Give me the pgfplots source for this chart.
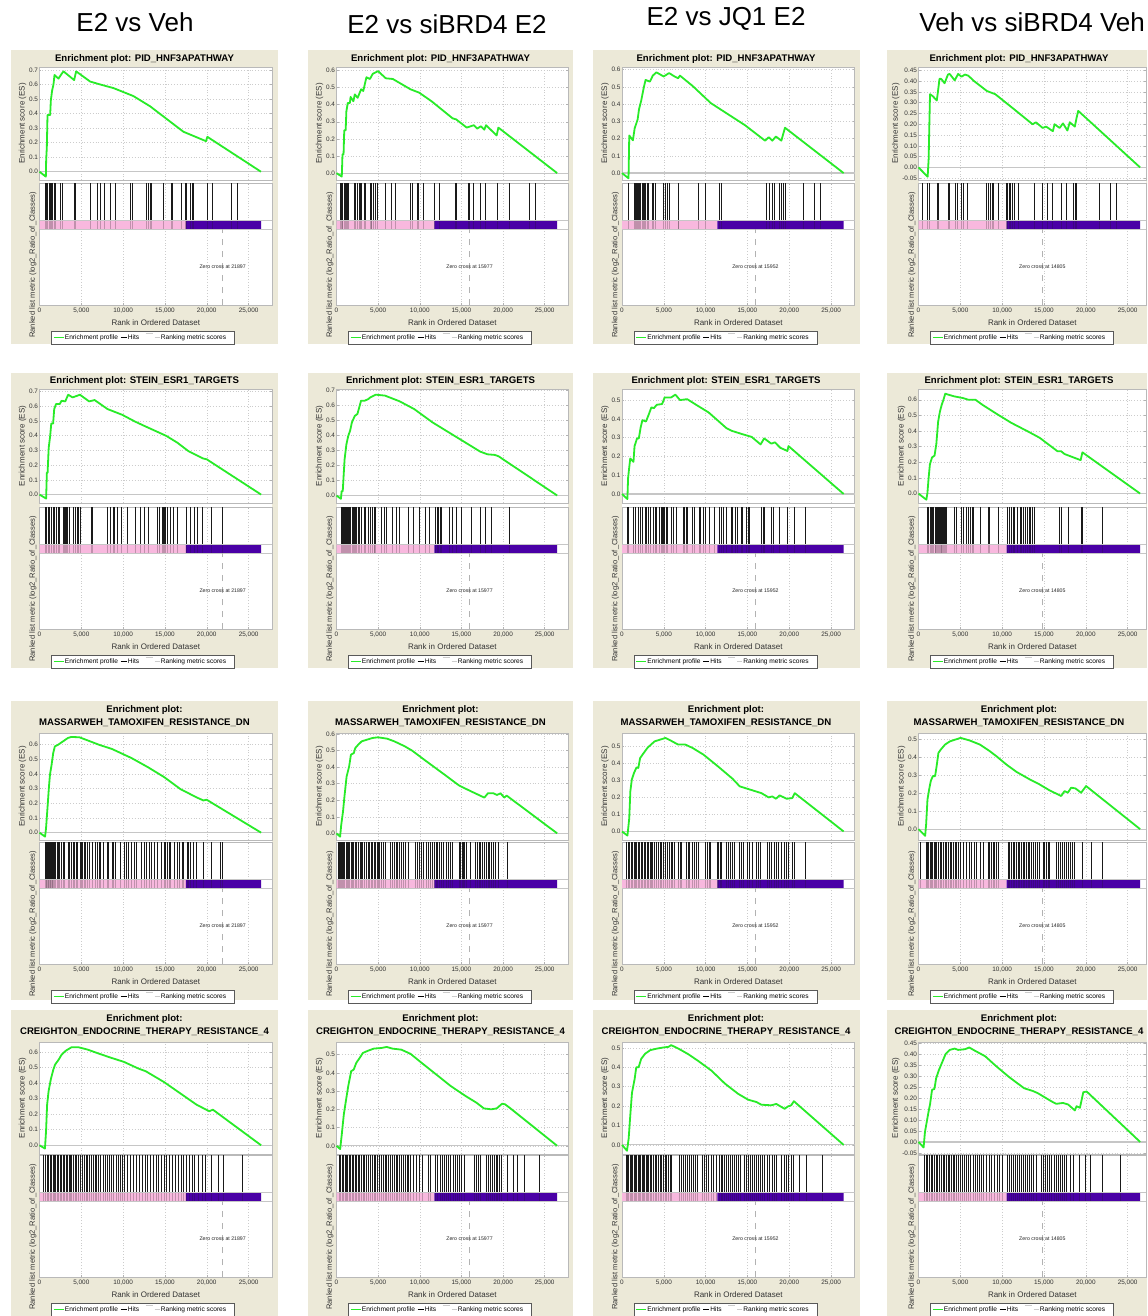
\documentclass[border=0pt]{standalone}
\usepackage{fontspec}
\setmainfont{Liberation Sans}
\usepackage{pgfplots}
\pgfplotsset{compat=1.18}
\definecolor{beige}{RGB}{236,233,216}
\definecolor{barpink}{RGB}{248,184,222}
\definecolor{barpurple}{RGB}{74,0,166}
\definecolor{esgreen}{RGB}{40,235,40}
\newcommand\tickfont{\fontsize{3.2}{3.6}\selectfont}
\newcommand\labfont{\fontsize{4}{4.6}\selectfont}
\newcommand\rlfont{\fontsize{3.8}{4.4}\selectfont}
\newcommand\titlefont{\fontsize{4.8}{5.6}\selectfont\bfseries}
\newcommand\legfont{\fontsize{3.3}{3.8}\selectfont}
\newcommand\zcfont{\fontsize{2.6}{3}\selectfont}
\newcommand\hdfont{\fontsize{13}{15}\selectfont}
\pgfplotsset{
  gsea/.style={scale only axis, xmin=-1, axis line style={gray!55, line width=0.3pt},
    xtick={0,5000,10000,15000,20000,25000}, grid style={densely dotted, gray!40, line width=0.25pt},
    tick style={gray!60, line width=0.25pt}, major tick length=1pt, scaled x ticks=false, scaled y ticks=false,
    ticklabel style={font=\tickfont, text=black!80, inner sep=0.6pt},
    axis background/.style={fill=white}},
  esax/.style={gsea, anchor=north west, xticklabels={}, xtick style={draw=none}, grid=major, clip=false,
    ylabel={Enrichment score (ES)}, ylabel style={font=\labfont, text=black!80, inner sep=0.6pt}},
  loax/.style={gsea, anchor=south west, ymin=0, ymax=122, ytick=\empty, xmajorgrids, height=61pt,
    clip=true,
    xticklabels={0,{5,000},{10,000},{15,000},{20,000},{25,000}},
    xticklabel style={yshift=-0.8pt},
    xlabel={Rank in Ordered Dataset}, xlabel style={font=\labfont, text=black!80, inner sep=0.6pt, yshift=-1.8pt}},
  esline/.style={esgreen, line width=0.9pt, line join=round},
  hitline/.style={black!90, line width=0.38pt},
}
\newcommand\SetCol[3]{\def\Xl{#1}\def\Xr{#2}\def\Xm{#3}}
\newcommand\SetRow[3]{\def\Yt{#1}\def\Ye{#2}\def\Ya{#3}}
\newcommand\Legend[2]{%
  \draw[black!65, line width=0.3pt, fill=white] ({#1},{#2}) rectangle ++(183,13);
  \draw[esgreen, line width=0.9pt] ({#1+2},{#2+6.5}) -- ++(10,0);
  \node[anchor=west, font=\legfont, inner sep=0pt] at ({#1+13},{#2+6.5}) {Enrichment profile};
  \draw[black, line width=0.4pt] ({#1+69},{#2+6.5}) -- ++(6,0);
  \node[anchor=west, font=\legfont, inner sep=0pt] at ({#1+76},{#2+6.5}) {Hits};
  \draw[gray!40, line width=0.4pt] ({#1+94},{#2+2.5}) -- ++(7,0);
  \draw[gray!40, line width=0.4pt] ({#1+103},{#2+6.5}) -- ++(5,0);
  \node[anchor=west, font=\legfont, inner sep=0pt] at ({#1+109},{#2+6.5}) {Ranking metric scores};
}
% #1 ymin #2 ymax #3 yticks #4 precision #5 ES coords #6 hits #7 pink end #8 zero cross
\newcommand\Panel[8]{%
  \pgfmathsetmacro\PW{(\Xr-\Xl)*0.5}%
  \pgfmathsetmacro\PH{(\Ye-\Yt)*0.5}%
  \pgfmathsetmacro\AX{\Xl*0.5}%
  \pgfmathsetmacro\AY{-\Yt*0.5}%
  \pgfmathsetmacro\BY{-\Ya*0.5}%
  \begin{scope}[x=0.5pt,y=-0.5pt]
    \fill[white] (\Xl,\Yt) rectangle (\Xr,\Ya);
    \node[rotate=90, font=\rlfont, text=black!80] at ({\Xl-6.5},{\Ya-40}) {Ranked list metric (log2\_Ratio\_of\_Classes)};
  \end{scope}
  \begin{axis}[esax, at={(\AX pt,\AY pt)}, width=\PW pt, height=\PH pt, xmax=\Xm, ymin=#1, ymax=#2, ytick={#3},
      yticklabel style={/pgf/number format/.cd, fixed, fixed zerofill, precision=#4, assume math mode=true}]
    \addplot[gray!45, line width=0.6pt] coordinates {(0,0) (\Xm,0)};
    \addplot[esline] coordinates {#5};
  \end{axis}
  \begin{axis}[loax, at={(\AX pt,\BY pt)}, width=\PW pt, xmax=\Xm]
    \addplot[hitline, quiver={u=0,v=37}] table[row sep=\\, header=false, x index=0, y expr=85] {#6};
    \addplot[fill=barpink, draw=none] coordinates {(0,76) (#7,76) (#7,85) (0,85) (0,76)};
    \addplot[fill=barpurple, draw=none] coordinates {(#7,76) (26500,76) (26500,85) (#7,85) (#7,76)};
    \addplot[hitline, opacity=0.25, quiver={u=0,v=9}] table[row sep=\\, header=false, x index=0, y expr=76] {#6};
    \addplot[gray!45, line width=0.3pt] coordinates {(0,76) (\Xm,76)};
    \addplot[gray!45, line width=0.3pt] coordinates {(0,85) (\Xm,85)};
    \addplot[gray!60, dashed, line width=0.3pt] coordinates {(#8,0) (#8,76)};
    \node[font=\zcfont, text=black!85] at (axis cs:#8,38) {Zero cross at #8};
  \end{axis}
  \begin{scope}[x=0.5pt,y=-0.5pt]
    \Legend{\Xl+12}{\Ya+26}
  \end{scope}
}
\begin{document}
\begin{tikzpicture}
\useasboundingbox (0,0) rectangle (573.5pt,-658pt);
\clip (0,0) rectangle (573.5pt,-658pt);
\begin{scope}[x=0.5pt,y=-0.5pt]
\fill[white] (0,0) rectangle (1147,1316);
% column headers
\node[font=\hdfont] at (135,22) {E2 vs Veh};
\node[font=\hdfont] at (447,24) {E2 vs siBRD4 E2};
\node[font=\hdfont] at (726,19) {E2 vs JQ1 E2};
\node[font=\hdfont, anchor=west, inner sep=0pt] at (919,22) {Veh vs siBRD4 Veh};
% beige panels
\foreach \a/\b in {11/278, 308/573, 593/859.5, 887/1147}{
  \foreach \c/\d in {50/344, 373/668, 701/1000, 1010/1320}{
    \fill[beige] (\a,\c) rectangle (\b,\d);
  }
}
% titles
\foreach \cx in {144.5, 440.5, 726, 1019}{
  \node[font=\titlefont] at (\cx,59) {Enrichment plot: PID\_HNF3APATHWAY};
  \node[font=\titlefont] at (\cx,381) {Enrichment plot: STEIN\_ESR1\_TARGETS};
  \node[font=\titlefont] at (\cx,710) {Enrichment plot:};
  \node[font=\titlefont] at (\cx,723) {MASSARWEH\_TAMOXIFEN\_RESISTANCE\_DN};
  \node[font=\titlefont] at (\cx,1019) {Enrichment plot:};
  \node[font=\titlefont] at (\cx,1032) {CREIGHTON\_ENDOCRINE\_THERAPY\_RESISTANCE\_4};
}
\end{scope}
%================ ROW 1 =================
\SetRow{67}{180}{305}
\SetCol{39.5}{272}{27800}
\Panel{-0.057}{0.72}{0,0.1,0.2,0.3,0.4,0.5,0.6,0.7}{1}
{(0,0)(757,-0.034)(796,0.08)(876,0.17)(956,0.39)(1274,0.39)(1354,0.49)(1513,0.56)(1672,0.60)(1792,0.665)(2270,0.64)(2549,0.665)(2867,0.69)(4141,0.63)(4380,0.69)(6053,0.62)(7247,0.60)(8840,0.575)(11229,0.52)(13220,0.45)(14813,0.38)(17202,0.275)(19910,0.21)(20069,0.24)(26480,0)}
{677\\796\\955\\1194\\1354\\1473\\1593\\1752\\1871\\2469\\2787\\4141\\4260\\6053\\6929\\7247\\7725\\8442\\9039\\10910\\11149\\12822\\13021\\13300\\13420\\14813\\15809\\15928\\17003\\17401\\17520\\18078\\18317\\18397\\20069\\20666\\22975\\23652\\}
{17500}{21897}
\SetCol{336.5}{568}{27800}
\Panel{-0.04}{0.62}{0,0.1,0.2,0.3,0.4,0.5,0.6}{1}
{(0,0)(634,-0.02)(718,0.11)(845,0.11)(930,0.25)(1099,0.25)(1183,0.36)(1352,0.41)(1606,0.41)(1690,0.445)(2028,0.42)(2198,0.46)(2536,0.44)(2958,0.49)(3212,0.48)(3592,0.56)(4015,0.55)(4353,0.58)(4987,0.596)(5916,0.554)(6762,0.55)(8874,0.49)(9931,0.47)(11410,0.42)(13946,0.32)(14368,0.314)(15636,0.266)(16481,0.28)(16904,0.26)(17327,0.274)(17749,0.254)(17960,0.28)(19228,0.22)(19440,0.266)(26500,0)}
{423\\550\\676\\761\\887\\1014\\1141\\1268\\1479\\2113\\2324\\2536\\2747\\2874\\3043\\3381\\3507\\4015\\4141\\4226\\4437\\4649\\4860\\5916\\6634\\7099\\8874\\9086\\9720\\9889\\10438\\11748\\12340\\14241\\14368\\15847\\15974\\16396\\17242\\17834\\19355\\20707\\23158\\23876\\}
{11750}{15977}
\SetCol{622}{854.5}{27800}
\Panel{-0.04}{0.615}{0,0.1,0.2,0.3,0.4,0.5,0.6}{1}
{(0,0)(779,-0.03)(866,0.218)(1299,0.19)(1516,0.26)(1862,0.31)(2035,0.37)(2295,0.42)(2598,0.495)(2815,0.54)(3334,0.53)(3680,0.565)(4114,0.584)(4980,0.56)(5629,0.58)(6279,0.56)(6712,0.55)(6928,0.565)(8444,0.505)(10609,0.406)(14722,0.277)(17104,0.188)(17537,0.208)(17970,0.188)(18403,0.212)(19052,0.188)(19485,0.263)(26500,0)}
{779\\1429\\1602\\1732\\1862\\1948\\2078\\2208\\2381\\2511\\2641\\2815\\3031\\3161\\3594\\3767\\4027\\4980\\5196\\5413\\5629\\6712\\6798\\9092\\9958\\11690\\11906\\17320\\17624\\17970\\18186\\18836\\19052\\19269\\19485\\21650\\22949\\23685\\}
{11400}{15952}
\SetCol{918.5}{1146}{27200}
\Panel{-0.058}{0.465}{-0.05,0,0.05,0.1,0.15,0.2,0.25,0.3,0.35,0.4,0.45}{2}
{(0,0)(1092,-0.043)(1214,0.041)(1295,0.2)(1376,0.339)(1699,0.33)(2185,0.31)(2306,0.346)(2509,0.41)(2711,0.41)(3115,0.39)(3520,0.43)(3722,0.433)(4329,0.403)(4734,0.433)(5138,0.42)(5543,0.43)(5947,0.425)(6635,0.4)(8173,0.354)(9184,0.339)(11410,0.27)(13635,0.2)(14039,0.209)(14849,0.183)(15253,0.189)(16062,0.168)(16264,0.2)(16871,0.183)(17275,0.204)(17801,0.171)(18084,0.209)(18691,0.189)(18893,0.229)(19095,0.262)(26500,0)}
{486\\1092\\1295\\2306\\2428\\3520\\3641\\4451\\4613\\5139\\5341\\5826\\8173\\8375\\8578\\8780\\8982\\9589\\10520\\10681\\10843\\11005\\11207\\11410\\11895\\13837\\14849\\15375\\16063\\17074\\17681\\18490\\18773\\18894\\21605\\22940\\23628\\}
{10530}{14805}
%================ ROW 2 =================
\SetRow{389}{503}{629}
\SetCol{39.5}{272}{27800}
\Panel{-0.057}{0.716}{0,0.1,0.2,0.3,0.4,0.5,0.6,0.7}{1}
{(0,0)(791,-0.027)(879,0.148)(967,0.148)(1099,0.318)(1275,0.398)(1406,0.482)(1626,0.482)(1758,0.58)(1978,0.614)(2417,0.614)(2637,0.636)(3076,0.632)(3428,0.677)(3956,0.659)(4835,0.677)(5933,0.632)(6593,0.641)(8131,0.58)(9889,0.541)(11427,0.495)(12526,0.466)(15163,0.398)(16481,0.352)(17800,0.295)(19558,0.245)(20000,0.239)(26500,0)}
{747\\879\\1011\\1187\\1450\\1626\\1758\\1978\\2198\\2417\\2857\\2989\\3120\\3208\\3384\\3516\\4087\\4263\\4527\\4703\\4835\\6153\\6373\\8131\\8483\\8790\\9010\\9361\\9801\\10548\\11427\\12087\\12526\\13054\\14065\\14284\\14636\\14812\\14943\\15075\\15251\\15603\\16042\\16481\\17580\\18019\\18459\\18898\\19470\\20525\\21843\\}
{17500}{21897}
\SetCol{336.5}{568}{27800}
\Panel{-0.05}{0.711}{0,0.1,0.2,0.3,0.4,0.5,0.6,0.7}{1}
{(0,0)(528,-0.022)(616,0.029)(748,0.029)(968,0.24)(1189,0.342)(1409,0.398)(1629,0.432)(1849,0.488)(2201,0.532)(2509,0.544)(2729,0.588)(2949,0.633)(3390,0.633)(3830,0.644)(4050,0.655)(4710,0.673)(5811,0.667)(7571,0.629)(9332,0.577)(11533,0.488)(14174,0.398)(15936,0.338)(17256,0.293)(18137,0.275)(19017,0.271)(19457,0.262)(26500,0)}
{528\\660\\792\\924\\1057\\1189\\1321\\1453\\1585\\1717\\1849\\1981\\2157\\2289\\2421\\2597\\2773\\2949\\3390\\3522\\3830\\4050\\4270\\4490\\4578\\4710\\5370\\5722\\6031\\6691\\7131\\7571\\8672\\9244\\9992\\10653\\11093\\11886\\12062\\12238\\12414\\12634\\13514\\13954\\14394\\15055\\16156\\17256\\17917\\18577\\20778\\}
{11750}{15977}
\SetCol{622}{854.5}{27800}
\Panel{-0.048}{0.559}{0,0.1,0.2,0.3,0.4,0.5}{1}
{(0,0)(642,-0.027)(728,0.086)(856,0.139)(985,0.189)(1370,0.171)(1498,0.255)(1798,0.296)(2012,0.296)(2226,0.354)(2440,0.393)(2868,0.386)(3211,0.425)(3510,0.461)(3810,0.457)(4153,0.475)(4795,0.479)(5095,0.514)(5865,0.514)(6379,0.529)(6935,0.5)(7792,0.505)(8862,0.475)(10360,0.434)(12501,0.35)(13143,0.336)(14427,0.318)(15497,0.304)(16567,0.264)(16996,0.296)(17852,0.268)(18280,0.275)(18922,0.246)(19778,0.229)(19907,0.255)(26500,0)}
{642\\813\\1413\\1584\\2012\\2226\\2440\\2782\\2954\\3125\\3382\\3724\\3938\\4152\\4495\\4666\\4795\\4923\\5095\\5266\\5437\\5865\\6122\\6507\\7364\\7492\\7663\\7792\\8434\\8648\\9204\\9376\\9718\\9933\\10489\\11088\\11644\\11858\\12072\\12501\\13058\\13229\\13571\\13785\\14213\\14427\\14855\\15069\\15283\\16653\\16867\\16996\\17852\\18066\\18794\\19778\\20634\\21919\\}
{11400}{15952}
\SetCol{918.5}{1146}{27200}
\Panel{-0.06}{0.669}{0,0.1,0.2,0.3,0.4,0.5,0.6}{1}
{(0,0)(937,-0.039)(1065,0.004)(1193,0.091)(1363,0.188)(1619,0.232)(1917,0.243)(2130,0.318)(2343,0.459)(2556,0.524)(2769,0.567)(2982,0.6)(3195,0.639)(3621,0.632)(4260,0.622)(5325,0.611)(5964,0.6)(6816,0.6)(7668,0.567)(9372,0.509)(11076,0.453)(13206,0.394)(14484,0.357)(16614,0.271)(17040,0.271)(17466,0.253)(18744,0.227)(19383,0.214)(19596,0.264)(26500,0)}
{1065\\1193\\1363\\1491\\1619\\1789\\1960\\2045\\2130\\2215\\2343\\2471\\2556\\2684\\2769\\2897\\2982\\3110\\3238\\3323\\4260\\4473\\5112\\5325\\5751\\5964\\6177\\6390\\6603\\7455\\8307\\8520\\9585\\10650\\10863\\11076\\11289\\11502\\11843\\12141\\12354\\12567\\12780\\12993\\13206\\13419\\13632\\13845\\16827\\17040\\17892\\19511\\19596\\21939\\}
{10530}{14805}
%================ ROW 3 =================
\SetRow{733}{840}{964}
\SetCol{39.5}{272}{27800}
\Panel{-0.05}{0.68}{0,0.1,0.2,0.3,0.4,0.5,0.6}{1}
{(0,0)(663,-0.027)(781,0.03)(937,0.155)(1132,0.315)(1249,0.395)(1444,0.463)(1639,0.543)(1834,0.589)(2225,0.6)(2810,0.623)(3396,0.646)(3786,0.653)(4762,0.651)(5737,0.63)(7105,0.6)(8666,0.571)(11006,0.509)(12958,0.447)(14909,0.379)(16861,0.297)(18812,0.24)(19593,0.22)(19983,0.225)(26500,0)}
{663\\781\\859\\937\\1015\\1093\\1171\\1249\\1327\\1405\\1483\\1561\\1639\\1834\\1952\\2108\\2264\\2420\\2615\\2810\\3005\\3396\\3591\\3786\\4059\\4215\\4371\\4567\\4840\\4996\\5152\\5347\\5542\\5737\\5933\\6323\\6713\\6908\\7103\\7299\\7689\\8079\\8274\\8665\\8860\\9055\\9640\\10148\\10421\\10616\\11006\\11397\\11592\\12177\\12568\\12763\\13153\\13348\\13739\\14129\\14519\\14909\\15105\\15300\\15495\\15690\\16080\\16471\\16783\\17056\\17251\\17642\\17837\\18032\\18422\\18812\\19593\\20569\\21623\\21857\\}
{17500}{21897}
\SetCol{336.5}{568}{27800}
\Panel{-0.04}{0.606}{0,0.1,0.2,0.3,0.4,0.5,0.6}{1}
{(0,0)(433,-0.02)(563,0.05)(779,0.131)(953,0.222)(1212,0.343)(1516,0.404)(1732,0.475)(2078,0.485)(2252,0.515)(2598,0.535)(3031,0.556)(3680,0.566)(4330,0.576)(4980,0.58)(6062,0.572)(6928,0.556)(8227,0.525)(9093,0.499)(10825,0.434)(12990,0.354)(14722,0.289)(16021,0.257)(17753,0.216)(18186,0.242)(18836,0.242)(19269,0.232)(19702,0.242)(20135,0.216)(20438,0.228)(26500,0)}
{217\\346\\476\\606\\736\\866\\996\\1126\\1299\\1472\\1602\\1732\\1905\\2078\\2252\\2425\\2598\\2815\\2944\\3118\\3291\\3551\\3810\\3984\\4200\\4330\\4503\\4676\\4850\\5023\\5196\\5413\\5629\\5846\\6495\\6712\\6928\\7145\\7361\\7578\\7794\\8054\\8314\\8573\\9526\\9743\\9959\\10176\\10392\\10825\\11042\\11258\\11475\\11778\\11951\\12124\\12341\\12557\\12774\\13207\\13423\\13640\\13856\\14722\\14895\\15068\\15242\\15415\\15588\\16021\\16671\\16887\\17104\\17320\\17537\\17753\\17970\\18186\\18403\\18619\\18836\\19052\\19485\\20568\\}
{11750}{15977}
\SetCol{622}{854.5}{27800}
\Panel{-0.05}{0.578}{0,0.1,0.2,0.3,0.4,0.5}{1}
{(0,0)(650,-0.024)(866,0.078)(996,0.235)(1169,0.304)(1429,0.343)(1732,0.376)(1949,0.373)(2165,0.431)(2598,0.461)(3031,0.49)(3464,0.51)(3897,0.529)(4547,0.539)(5196,0.549)(5846,0.533)(6712,0.51)(7578,0.51)(8444,0.49)(9743,0.451)(11475,0.382)(13207,0.31)(14073,0.265)(15372,0.245)(16671,0.225)(17537,0.2)(17970,0.206)(18403,0.192)(18836,0.212)(19702,0.192)(20351,0.196)(20654,0.225)(26500,0)}
{563\\736\\909\\1083\\1256\\1429\\1602\\1775\\1949\\2122\\2295\\2468\\2641\\2815\\2988\\3161\\3334\\3507\\3681\\3897\\4114\\4330\\4547\\4763\\4980\\5196\\5413\\5629\\5846\\6062\\6279\\6712\\6928\\7145\\7664\\7881\\8097\\8357\\8617\\8877\\9136\\9959\\10176\\10392\\10609\\11388\\11561\\11734\\11908\\12427\\12687\\12947\\13207\\13466\\13986\\14246\\14506\\15025\\15285\\15545\\16064\\16324\\16584\\17363\\17623\\17883\\18229\\18489\\18749\\19009\\19355\\19615\\19875\\20394\\20568\\21953\\}
{11400}{15952}
\SetCol{918.5}{1146}{27200}
\Panel{-0.06}{0.533}{0,0.1,0.2,0.3,0.4,0.5}{1}
{(0,0)(793,-0.037)(912,0.028)(1071,0.165)(1309,0.23)(1468,0.267)(1706,0.294)(1984,0.294)(2182,0.355)(2380,0.423)(2658,0.441)(3174,0.469)(3769,0.487)(4364,0.496)(5038,0.506)(6149,0.491)(7339,0.469)(8529,0.432)(9323,0.404)(10513,0.358)(11703,0.318)(13290,0.276)(14480,0.248)(15670,0.215)(17058,0.184)(17455,0.211)(17852,0.202)(18248,0.23)(18764,0.226)(19439,0.202)(20034,0.239)(26500,0)}
{198\\912\\1071\\1230\\1388\\1547\\1706\\1864\\2023\\2182\\2380\\2579\\2777\\2975\\3174\\3372\\3570\\3769\\3967\\4165\\4364\\4562\\4760\\4959\\5355\\5752\\6070\\6347\\6625\\6943\\7339\\7736\\8331\\8529\\8728\\8926\\9124\\9323\\9521\\10711\\10909\\11108\\11306\\11504\\11704\\11901\\12099\\12298\\12496\\12694\\12893\\13091\\13289\\13488\\13686\\14004\\14202\\14400\\14876\\15075\\15273\\15471\\15670\\16542\\16780\\17018\\17256\\17495\\17733\\17971\\18209\\18447\\18685\\19637\\20628\\22017\\}
{10530}{14805}
%================ ROW 4 =================
\SetRow{1042}{1154}{1277}
\SetCol{39.5}{272}{27800}
\Panel{-0.056}{0.664}{0,0.1,0.2,0.3,0.4,0.5,0.6}{1}
{(0,0)(651,-0.021)(781,0.09)(911,0.261)(1084,0.347)(1344,0.422)(1648,0.486)(1865,0.519)(2298,0.551)(2646,0.583)(3166,0.609)(3817,0.63)(4684,0.63)(5768,0.615)(6853,0.594)(8370,0.566)(10105,0.536)(11840,0.493)(12707,0.476)(14876,0.407)(17044,0.326)(18779,0.261)(20297,0.219)(20730,0.229)(26500,0)}
{477\\737\\911\\1084\\1258\\1431\\1605\\1778\\1952\\2125\\2299\\2472\\2646\\2819\\2993\\3166\\3339\\3513\\3686\\3860\\4033\\4250\\4467\\4684\\4901\\5118\\5335\\5551\\5768\\5985\\6202\\6419\\6636\\6852\\7069\\7286\\7590\\7850\\8110\\8370\\8631\\8891\\9151\\9411\\9672\\9932\\10192\\10539\\10886\\11233\\11580\\11927\\12274\\12621\\12924\\13228\\13575\\13922\\14225\\14529\\14876\\15223\\15570\\15917\\16264\\16611\\16958\\17261\\17565\\17912\\18259\\18562\\18996\\19430\\19863\\20514\\21381\\22032\\24200\\}
{17500}{21897}
\SetCol{336.5}{568}{27800}
\Panel{-0.045}{0.569}{0,0.1,0.2,0.3,0.4,0.5}{1}
{(0,0)(440,-0.018)(616,0.055)(880,0.173)(1189,0.264)(1409,0.327)(1761,0.409)(2069,0.418)(2377,0.455)(2729,0.478)(3170,0.509)(3830,0.522)(4490,0.533)(5370,0.536)(6031,0.542)(6691,0.533)(7792,0.527)(8892,0.504)(10213,0.455)(11974,0.391)(13734,0.327)(15495,0.273)(16816,0.236)(17696,0.205)(18577,0.2)(19237,0.205)(19897,0.231)(20249,0.227)(20778,0.209)(26500,0)}
{308\\484\\660\\836\\1012\\1189\\1365\\1541\\1717\\1893\\2069\\2245\\2421\\2597\\2773\\2949\\3169\\3390\\3610\\3830\\4050\\4270\\4490\\4710\\4930\\5150\\5370\\5591\\5811\\6031\\6251\\6471\\6691\\6911\\7131\\7351\\7571\\7792\\8012\\8232\\8452\\8672\\8892\\9244\\9596\\9949\\10301\\11005\\11313\\11885\\12150\\12414\\12678\\12942\\13206\\13470\\13734\\13998\\14262\\14527\\14791\\15055\\15319\\16596\\16816\\17036\\17256\\18048\\18268\\18488\\18709\\18929\\19149\\19369\\19589\\19809\\20557\\21217\\21746\\22538\\24387\\}
{11750}{15977}
\SetCol{622}{854.5}{27800}
\Panel{-0.047}{0.53}{0,0.1,0.2,0.3,0.4,0.5}{1}
{(0,0)(595,-0.03)(793,0.032)(992,0.154)(1190,0.268)(1507,0.339)(1706,0.4)(1984,0.4)(2301,0.444)(2777,0.47)(3372,0.488)(4165,0.496)(4959,0.502)(5554,0.505)(5871,0.514)(6744,0.496)(7934,0.467)(9124,0.432)(10711,0.382)(12298,0.316)(13885,0.263)(15075,0.233)(16066,0.221)(16661,0.207)(17852,0.204)(18447,0.211)(19439,0.186)(19836,0.198)(20232,0.204)(20549,0.225)(26500,0)}
{476\\635\\793\\952\\1111\\1269\\1428\\1587\\1745\\1904\\2063\\2222\\2380\\2539\\2698\\2856\\3015\\3174\\3372\\3570\\3769\\3967\\4165\\4364\\4562\\4760\\4959\\5157\\5355\\5554\\5752\\5950\\6823\\7061\\7299\\7537\\7775\\8013\\8251\\8489\\8727\\8965\\9600\\9838\\10076\\10314\\10632\\10949\\11306\\11584\\11822\\12060\\12298\\12536\\12774\\13012\\13250\\13488\\13726\\13964\\14202\\14599\\14836\\15075\\15313\\15551\\15789\\16027\\16265\\16503\\16741\\16979\\17375\\17653\\17931\\18169\\18447\\19042\\19360\\19637\\19915\\20232\\20549\\21223\\22017\\24001\\}
{11400}{15952}
\SetCol{918.5}{1146}{27200}
\Panel{-0.055}{0.456}{-0.05,0,0.05,0.1,0.15,0.2,0.25,0.3,0.35,0.4,0.45}{2}
{(0,0)(607,-0.025)(769,0.045)(971,0.089)(1214,0.141)(1376,0.171)(1618,0.238)(1902,0.242)(2104,0.29)(2428,0.327)(2832,0.364)(3237,0.401)(3722,0.42)(4329,0.426)(4734,0.42)(5543,0.423)(6069,0.431)(6757,0.416)(7971,0.391)(9184,0.349)(10803,0.297)(12624,0.245)(13635,0.233)(14242,0.223)(15860,0.186)(16467,0.174)(17276,0.178)(17883,0.171)(18692,0.144)(18894,0.163)(19299,0.156)(19703,0.227)(20108,0.23)(26500,0)}
{688\\890\\1092\\1295\\1497\\1699\\1902\\2104\\2306\\2509\\2711\\2913\\3115\\3318\\3520\\3722\\3924\\4127\\4329\\4532\\4774\\5017\\5260\\5503\\5745\\5988\\6231\\6555\\6797\\7040\\7283\\7526\\7768\\8092\\8416\\8739\\9063\\9387\\9710\\10034\\10601\\10843\\11086\\11329\\11572\\11814\\12057\\12300\\12543\\12785\\13028\\13271\\13514\\13756\\14040\\14727\\14970\\15213\\15456\\15698\\15941\\16184\\16427\\16670\\16912\\17155\\17398\\17721\\18126\\18531\\19178\\19987\\20554\\21929\\24155\\}
{10530}{14805}
\end{tikzpicture}
\end{document}
